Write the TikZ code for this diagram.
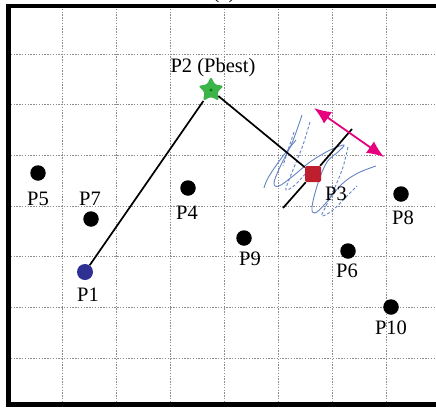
\documentclass[tikz,border=0pt]{standalone}
\usepackage{fontspec}
\setmainfont{Liberation Serif}
\usetikzlibrary{shapes.geometric,arrows.meta}
\definecolor{gridgray}{RGB}{140,140,140}
\definecolor{stargreen}{RGB}{60,180,74}
\definecolor{sqred}{RGB}{190,30,45}
\definecolor{dotblue}{RGB}{46,49,146}
\definecolor{arrowpink}{RGB}{230,0,126}
\definecolor{scribble}{RGB}{100,130,195}
\tikzset{
  gridline/.style={gridgray, line width=0.7pt, dash pattern=on 1.4pt off 1.4pt},
  blackdot/.style={circle, fill=black, inner sep=0pt, minimum size=15.5pt},
  lbl/.style={font=\fontsize{20.5}{23}\selectfont, inner sep=0pt},
  conn/.style={black, line width=1.7pt},
  scrib/.style={scribble, line width=0.9pt},
  scribd/.style={scribble, line width=0.9pt, dash pattern=on 3pt off 2pt},
}
\begin{document}
\begin{tikzpicture}[x=1pt,y=-1pt]
\useasboundingbox (0,0) rectangle (436,407);
\clip (0,0) rectangle (436,407);
% grid
\foreach \gx in {62.5,116.5,170.5,224.5,278.5,332.5,386.5}
  \draw[gridline] (\gx,6) -- (\gx,405);
\foreach \gy in {54,104.7,155.4,206.1,256.8,307.5,358.2}
  \draw[gridline] (8,\gy) -- (460,\gy);
% frame
\draw[black, line width=4.5pt] (460,6) -- (8.5,6) -- (8.5,404.5) -- (460,404.5);
% caption (cut off as in the reference)
\node[lbl, anchor=base] (cap) at (224,-1.5) {(a)};
% scribble around P3
\draw[scrib] plot[smooth, tension=0.6] coordinates {(302,115) (292,143) (280,167) (274,183) (279,186) (293,176) (310,162) (330,150) (344,145) (338,152) (327,162) (318,183) (312,207) (315,213) (325,204) (342,184) (358,173) (376,166)};
\draw[scribd] plot[smooth, tension=0.6] coordinates {(310,122) (303,145) (297,160) (289,180) (286,190) (295,185) (306,173)};
\draw[scribd] plot[smooth, tension=0.6] coordinates {(348,147) (343,167) (335,187) (325,208) (322,216) (333,210) (350,193) (357,186)};
\draw[scribd] plot[smooth, tension=0.6] coordinates {(294,132) (288,150) (283,166)};
\draw[scrib] plot[smooth, tension=0.6] coordinates {(264,188) (268,178) (280,160) (296,140)};
% points
\node[blackdot] (p5) at (38,173) {};
\node[blackdot] (p7) at (91,219) {};
\node[circle, fill=dotblue, inner sep=0pt, minimum size=16pt] (p1) at (85,272) {};
\node[blackdot] (p4) at (188,188) {};
\node[star, star points=5, star point ratio=2.0, fill=stargreen, inner sep=0pt, minimum size=27pt, rounded corners=2.5pt] (p2) at (211,90) {};
\fill[green!50!black] (p2.center) circle (1.6pt);
\node[rectangle, fill=sqred, inner sep=0pt, minimum size=16pt, rounded corners=1.5pt] (p3) at (313,174) {};
\node[blackdot] (p8) at (401,194) {};
\node[blackdot] (p9) at (244,238) {};
\node[blackdot] (p6) at (348,251) {};
\node[blackdot] (p10) at (391,307) {};
% labels
\node[lbl] (l5) at (38,199) {P5};
\node[lbl] (l7) at (90,199) {P7};
\node[lbl] (l1) at (88,295) {P1};
\node[lbl] (l4) at (187,213) {P4};
\node[lbl] (l2) at (213,68) {P2 (Pbest)};
\node[lbl] (l3) at (336,194) {P3};
\node[lbl] (l8) at (403,218) {P8};
\node[lbl] (l9) at (250,259) {P9};
\node[lbl] (l6) at (347,271) {P6};
\node[lbl] (l10) at (391,328) {P10};
% connectors
\draw[conn] (p1) -- (p2);
\draw[conn] (p2) -- (p3);
\coordinate (ta) at (283,208);
\coordinate (tb) at (352,129);
\draw[conn] (ta) -- (p3) -- (tb);
\coordinate (aa) at (314,108);
\coordinate (ab) at (384,157);
\draw[arrowpink, line width=1.8pt, {Latex[length=17pt,width=14pt]}-{Latex[length=17pt,width=14pt]}] (aa) -- (ab);
\end{tikzpicture}
\end{document}
